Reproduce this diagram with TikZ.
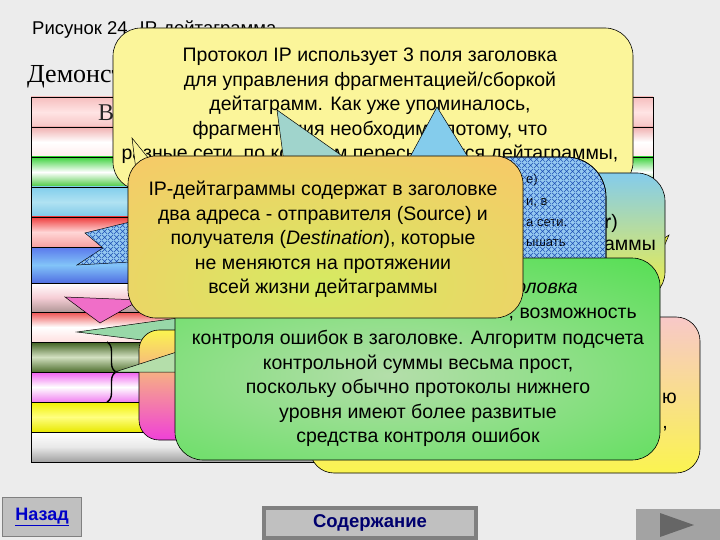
\documentclass[tikz,border=0pt]{standalone}
\usepackage{fontspec}
\setmainfont{Liberation Sans}
\newfontfamily\serifrm{Liberation Serif}
\usetikzlibrary{patterns,patterns.meta,decorations.pathreplacing}

\definecolor{bgpaper}{RGB}{236,236,236}
\definecolor{calloutA}{RGB}{251,245,154}
\definecolor{orangeB}{RGB}{248,200,104}
\definecolor{limeB}{RGB}{214,234,98}
\definecolor{greenE}{RGB}{60,224,60}
\definecolor{paleE}{RGB}{180,222,170}
\definecolor{skyC}{RGB}{132,204,236}
\definecolor{yellowC}{RGB}{244,240,64}
\definecolor{hatchD}{RGB}{148,200,240}
\definecolor{hatchline}{RGB}{30,80,180}
\definecolor{pinkF}{RGB}{248,200,200}
\definecolor{yellowF}{RGB}{250,244,80}
\definecolor{magentaF}{RGB}{240,64,216}
\definecolor{cyanT}{RGB}{160,212,204}
\definecolor{mintP}{RGB}{152,216,168}
\definecolor{pinkP}{RGB}{240,110,200}
\definecolor{btngray}{RGB}{192,192,192}
\definecolor{btndark}{RGB}{128,128,128}
\definecolor{linkblue}{RGB}{0,0,200}
\definecolor{navy}{RGB}{0,0,110}

\tikzdeclarepattern{
  name=diaghatch,
  bounding box={(0pt,0pt) and (6pt,6pt)},
  tile size={(6pt,6pt)},
  code={\draw[line width=0.55pt] (0pt,0pt) -- (6pt,6pt) (0pt,6pt) -- (6pt,0pt);}
}

\begin{document}
\begin{tikzpicture}[x=1pt,y=-1pt,
    callout/.style = {draw=black, line width=0.6pt, rounded corners=28pt},
    pointer/.style = {draw=black, line width=0.5pt},
    ctext/.style = {align=center, inner sep=0pt,
                    font=\fontsize{19.5}{24.5}\selectfont},
    smalltext/.style = {inner sep=0pt, font=\fontsize{13}{16}\selectfont},
    button/.style = {fill=btngray, draw=btndark},
  ]
  % background and heading
  \fill[bgpaper] (0,0) rectangle (720,540);
  \useasboundingbox (0,0) rectangle (720,540);
  \node (title) [anchor=base west, inner sep=0pt,
                 font=\fontsize{18.5}{20}\selectfont] at (32,35)
        {Рисунок 24. IP-дейтаграмма};
  \node (demo) [anchor=base west, inner sep=0pt,
                font=\serifrm\fontsize{26}{28}\selectfont] at (27,83)
        {Демонстрация};

  % header table
  \foreach \ya/\yb/\ct/\cm/\cb in {
      97/127/{rgb,255:red,246;green,190;blue,190}/{rgb,255:red,255;green,228;blue,228}/{rgb,255:red,246;green,196;blue,196},
      127/157/{rgb,255:red,240;green,176;blue,176}/white/{rgb,255:red,255;green,236;blue,236},
      157/187/{rgb,255:red,60;green,210;blue,60}/white/{rgb,255:red,70;green,200;blue,60},
      187/217/{rgb,255:red,130;green,206;blue,236}/{rgb,255:red,176;green,226;blue,242}/{rgb,255:red,126;green,200;blue,232},
      217/247/{rgb,255:red,238;green,60;blue,60}/{rgb,255:red,255;green,214;blue,214}/{rgb,255:red,246;green,160;blue,160},
      247/283/{rgb,255:red,90;green,120;blue,236}/{rgb,255:red,130;green,196;blue,248}/{rgb,255:red,80;green,110;blue,226},
      283/312/white/{rgb,255:red,246;green,206;blue,214}/{rgb,255:red,176;green,150;blue,150},
      312/342/{rgb,255:red,238;green,80;blue,80}/white/{rgb,255:red,255;green,224;blue,224},
      342/372/{rgb,255:red,64;green,96;blue,32}/{rgb,255:red,210;green,224;blue,192}/{rgb,255:red,80;green,112;blue,48},
      372/402/{rgb,255:red,240;green,96;blue,240}/white/{rgb,255:red,240;green,128;blue,240},
      402/432/{rgb,255:red,240;green,240;blue,0}/{rgb,255:red,255;green,255;blue,128}/{rgb,255:red,232;green,232;blue,0},
      432/462/white/{rgb,255:red,232;green,232;blue,232}/{rgb,255:red,160;green,160;blue,160}}
    \path[top color=\ct, bottom color=\cb, middle color=\cm,
          draw=black, line width=0.5pt] (31,\ya) rectangle (653,\yb);
  \draw[line width=0.8pt] (31,97) rectangle (653,462);
  \draw[line width=1.4pt, decorate, decoration={brace, amplitude=9pt}]
    (107,342) -- (107,402);
  \node (field) [anchor=base west, inner sep=0pt, text=black!85,
                 font=\serifrm\fontsize{24}{26}\selectfont] at (98,121) {В};

  % callout on fragmentation
  \path[callout, fill=calloutA] (113,28) rectangle (633,190);
  \node (fragtext) [ctext, anchor=north] at (370,48)
    {Протокол IP использует 3 поля заголовка\\
     для управления фрагментацией/сборкой\\
     дейтаграмм. Как уже упоминалось,\\
     фрагментация необходима потому, что\\
     разные сети, по которым пересылаются дейтаграммы,};
  \path[pointer, fill=calloutA] (132,138) -- (136,170) -- (158,170) -- cycle;

  % pink and yellow callouts at the bottom
  \path[pointer, fill=pinkP] (65,297) -- (140,300) -- (100,323) -- cycle;
  \path[pointer, fill=mintP] (77,332) -- (200,315) -- (158,342) -- cycle;
  \path[callout, rounded corners=20pt, top color=yellowF, middle color=yellowF,
        bottom color=magentaF] (139,330) rectangle (420,440);
  \path[callout, rounded corners=24pt, top color=pinkF, middle color=pinkF,
        bottom color=yellowF] (310,317) rectangle (700,473);
  \node (pinkend) [ctext, anchor=base east] at (677,403) {ю};
  \node (pinkcomma) [ctext, anchor=base east] at (668,428) {,};

  % sky callout
  \path[pointer, fill=yellowC] (628,262) -- (669,235) -- (653,272) -- cycle;
  \path[callout, top color=skyC, bottom color=yellowC] (430,173) rectangle (665,300);
  \node (skyhead) [ctext, anchor=base east] at (618,229) {\textbf{r})};
  \node (skyend) [ctext, anchor=base east] at (656,251) {аммы};

  % pointers over the fragmentation callout
  \path[pointer, fill=cyanT] (277,110) -- (285,170) -- (362,170) -- cycle;
  \path[pointer, fill=skyC] (437,107) -- (403,170) -- (476,170) -- cycle;

  % hatched callout
  \path[pointer, fill=hatchD] (85,233) -- (130,222) -- (130,262) -- (77,265)
    -- (103,248) -- cycle;
  \path[pattern=diaghatch, pattern color=hatchline] (85,233) -- (130,222)
    -- (130,262) -- (77,265) -- (103,248) -- cycle;
  \path[callout, rounded corners=40pt, fill=hatchD] (360,157) rectangle (606,330);
  \node (ttl1) [smalltext, anchor=base west] at (526,184) {е)};
  \node (ttl2) [smalltext, anchor=base west] at (526,206) {и, в};
  \node (ttl3) [smalltext, anchor=base west] at (526,226) {а сети.};
  \node (ttl4) [smalltext, anchor=base west] at (526,246) {ышать};
  \path[callout, rounded corners=40pt, pattern=diaghatch, pattern color=hatchline]
    (360,157) rectangle (606,330);

  % checksum callout
  \path[pointer, fill=paleE] (115,372) -- (300,312) -- (180,372) -- cycle;
  \begin{scope}
    \clip[rounded corners=28pt] (175,258) rectangle (660,460);
    \fill[greenE] (175,258) rectangle (660,460);
    \shade[inner color=paleE, outer color=greenE] (390,375) ellipse (560 and 190);
  \end{scope}
  \path[callout] (175,258) rectangle (660,460);
  \node (sum1) [ctext, anchor=base east] at (578,293) {\textit{оловка}};
  \node (sum2) [ctext, anchor=base east] at (637,318) {, возможность};
  \node (sumtext) [ctext, anchor=north] at (418,330)
    {контроля ошибок в заголовке. Алгоритм подсчета\\
     контрольной суммы весьма прост,\\
     поскольку обычно протоколы нижнего\\
     уровня имеют более развитые\\
     средства контроля ошибок};

  % address callout
  \begin{scope}
    \clip[rounded corners=28pt] (128,156) rectangle (523,318);
    \fill[orangeB] (128,156) rectangle (523,318);
    \shade[inner color=limeB, outer color=orangeB] (320,285) ellipse (320 and 170);
  \end{scope}
  \path[callout] (128,156) rectangle (523,318);
  \node (addrtext) [ctext, anchor=north] at (323,181)
    {IP-дейтаграммы содержат в заголовке\\
     два адреса - отправителя (Source) и\\
     получателя (\textit{Destination}), которые\\
     не меняются на протяжении\\
     всей жизни дейтаграммы};

  % navigation buttons
  \node (back) [button, line width=1.5pt, minimum width=79pt, minimum height=39pt,
                font=\bfseries\fontsize{18}{20}\selectfont, text=linkblue]
        at (42,517) {\underline{Назад}};
  \node (contents) [button, line width=3.5pt, minimum width=212pt, minimum height=30pt,
                    font=\bfseries\fontsize{18.5}{20}\selectfont, text=navy]
        at (370,523) {Содержание};
  \node (next) [fill=btngray!85!black, minimum width=86pt, minimum height=32pt]
        at (679,525) {};
  \fill[black!60] (660,513) -- (694,525) -- (660,537) -- cycle;
\end{tikzpicture}
\end{document}
